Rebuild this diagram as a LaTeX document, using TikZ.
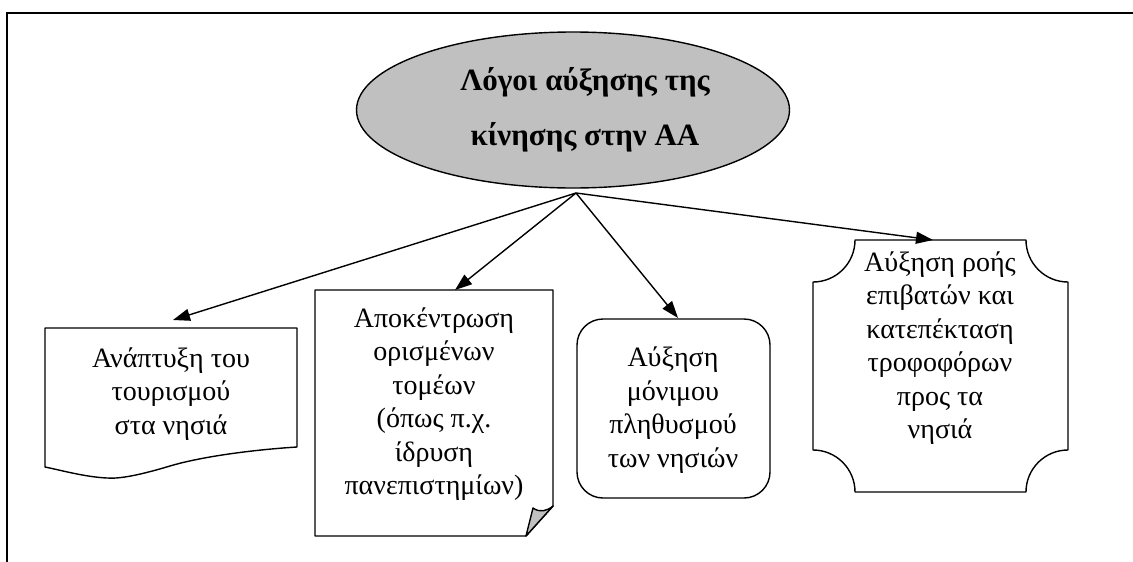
\documentclass[tikz,border=0pt]{standalone}
\usepackage{fontspec}
\setmainfont{Liberation Serif}
\usetikzlibrary{shapes.geometric,arrows.meta,calc}
\definecolor{shade}{RGB}{192,192,192}
\begin{document}
\begin{tikzpicture}[x=1pt,y=-1pt,
  outl/.style={line width=1.4pt, line join=round},
  conn/.style={line width=1.4pt, -{Triangle[length=17pt,width=12pt]}},
  txt/.style={align=center, font=\fontsize{28}{33.5}\selectfont, inner sep=0pt},
  ttl/.style={align=center, font=\fontsize{31}{55}\selectfont\bfseries, inner sep=0pt}]
\useasboundingbox (0,0) rectangle (1133,562);
\draw[line width=2.2pt] (7,562) -- (7,13) -- (1133,13);
% root ellipse
\node[ellipse, draw, outl, fill=shade, minimum width=433pt, minimum height=156pt, inner sep=0pt] (root) at (573,110) {};
\node[ttl] (rt) at (585,110) {Λόγοι αύξησης της\\κίνησης στην ΑΑ};
\coordinate (hub) at (576,193);
% box 1: document shape
\draw[outl] (45,467) -- (45,328) -- (297,328) -- (297,447)
  .. controls (250,450) and (200,457) .. (170,466)
  .. controls (140,475) and (120,479) .. (107,478)
  .. controls (85,477) and (60,470) .. (45,467) -- cycle;
\node[txt] (b1) at (171,394) {Ανάπτυξη του\\τουρισμού\\στα νησιά};
% box 2: note with folded corner
\draw[outl] (315,290) -- (553,290) -- (553,506) -- (526,536) -- (315,536) -- cycle;
\filldraw[outl, fill=shade] (526,536) -- (533,508) .. controls (540,513) and (547,511) .. (553,506) -- cycle;
\node[txt] (b2) at (434,404) {Αποκέντρωση\\ορισμένων\\τομέων\\(όπως π.χ.\\ίδρυση\\πανεπιστημίων)};
% box 3: rounded rectangle
\draw[outl, rounded corners=26pt] (577,319) rectangle (770,498);
\node[txt] (b3) at (673,410) {Αύξηση\\μόνιμου\\πληθυσμού\\των νησιών};
% box 4: plaque
\draw[outl] (855,240) -- (1026,240) arc[start angle=180, end angle=90, radius=42]
  -- (1068,450) arc[start angle=270, end angle=180, radius=42]
  -- (855,492) arc[start angle=0, end angle=-90, radius=42]
  -- (813,282) arc[start angle=90, end angle=0, radius=42] -- cycle;
\node[txt] (b4) at (940,348) {Αύξηση ροής\\επιβατών και\\κατεπέκταση\\τροφοφόρων\\προς τα\\νησιά};
% arrow targets
\coordinate (t1) at (173,320);
\coordinate (t2) at (455,290);
\coordinate (t3) at (678,318);
\coordinate (t4) at (933,240);
\draw[conn] (hub) -- (t1);
\draw[conn] (hub) -- (t2);
\draw[conn] (hub) -- (t3);
\draw[conn] (hub) -- (t4);
\end{tikzpicture}
\end{document}
